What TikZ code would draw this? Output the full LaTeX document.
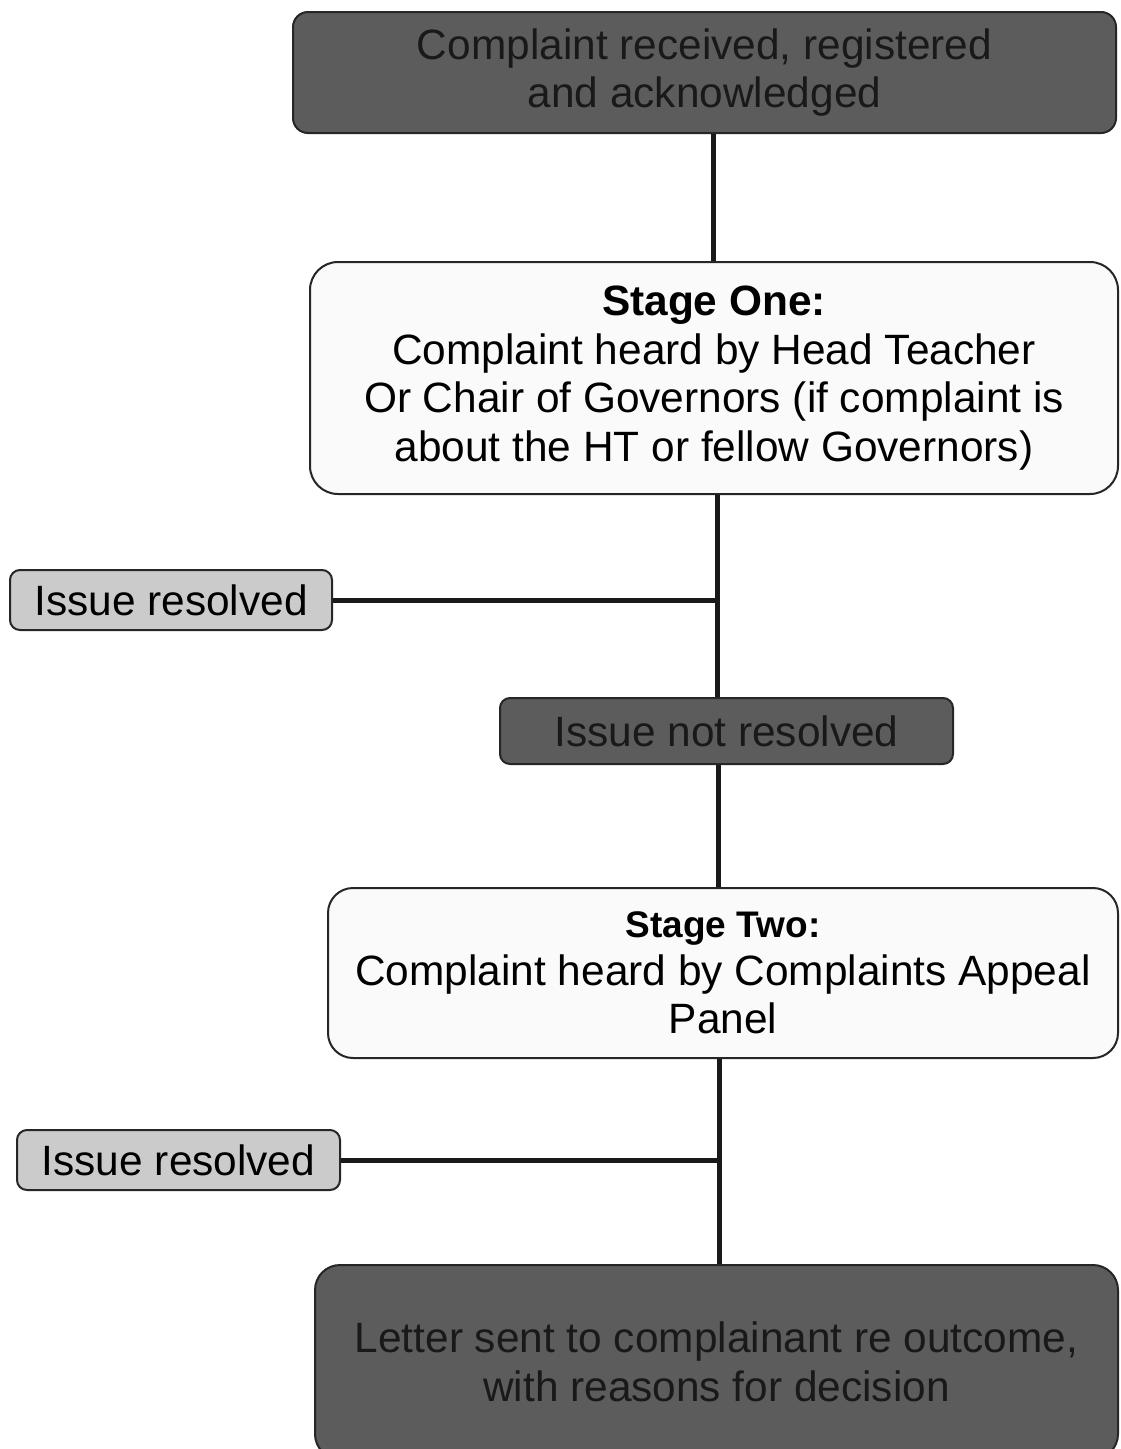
\documentclass[tikz,border=0pt]{standalone}
\usepackage{fontspec}
\setmainfont{Liberation Sans}
\definecolor{darkbox}{HTML}{5C5C5C}
\definecolor{lightbox}{HTML}{CBCBCB}
\definecolor{whitebox}{HTML}{FAFAFA}
\begin{document}
\begin{tikzpicture}[x=1pt,y=-1pt,
  base/.style={draw=black!85, line width=2pt, align=center, inner sep=0pt,
    font=\fontsize{42.4}{48.5}\selectfont, text=black},
  darkstyle/.style={base, fill=darkbox, text=black!90},
  lightstyle/.style={base, fill=lightbox},
  whitestyle/.style={base, fill=whitebox},
  link/.style={line width=5pt, draw=black!90}]
\useasboundingbox[fill=white] (0,0) rectangle (1120,1449);

\node[darkstyle, rounded corners=15pt, minimum width=823pt, minimum height=121pt] (top) at (704.5,72.5)
  {Complaint received, registered\\and acknowledged};
\node[whitestyle, rounded corners=28pt, minimum width=808pt, minimum height=232pt] (s1) at (714,378)
  {\textbf{Stage One:}\\Complaint heard by Head Teacher\\Or Chair of Governors (if complaint is\\about the HT or fellow Governors)};
\node[lightstyle, rounded corners=10pt, minimum width=322pt, minimum height=60pt] (ir1) at (171,600)
  {Issue resolved};
\node[darkstyle, rounded corners=10pt, minimum width=453pt, minimum height=66pt] (inr) at (726.5,731)
  {Issue not resolved};
\node[whitestyle, rounded corners=25pt, minimum width=790pt, minimum height=170pt] (s2) at (723,973)
  {{\fontsize{37}{45}\selectfont\bfseries Stage Two:}\\[-1pt]Complaint heard by Complaints Appeal\\Panel};
\node[lightstyle, rounded corners=10pt, minimum width=323pt, minimum height=60pt] (ir2) at (178.5,1160)
  {Issue resolved};
\node[darkstyle, rounded corners=25pt, minimum width=803pt, minimum height=194pt] (let) at (716.5,1362)
  {Letter sent to complainant re outcome,\\with reasons for decision};

\coordinate (sp1) at (713,0);
\coordinate (sp2) at (717,0);
\coordinate (sp3) at (718,0);
\coordinate (sp4) at (719,0);

\draw[link] (top.south -| sp1) -- (s1.north -| sp1);
\draw[link] (s1.south -| sp2) -- (inr.north -| sp2);
\draw[link] (ir1.east) -- (ir1.east -| sp2);
\draw[link] (inr.south -| sp3) -- (s2.north -| sp3);
\draw[link] (s2.south -| sp4) -- (let.north -| sp4);
\draw[link] (ir2.east) -- (ir2.east -| sp4);
\end{tikzpicture}
\end{document}
